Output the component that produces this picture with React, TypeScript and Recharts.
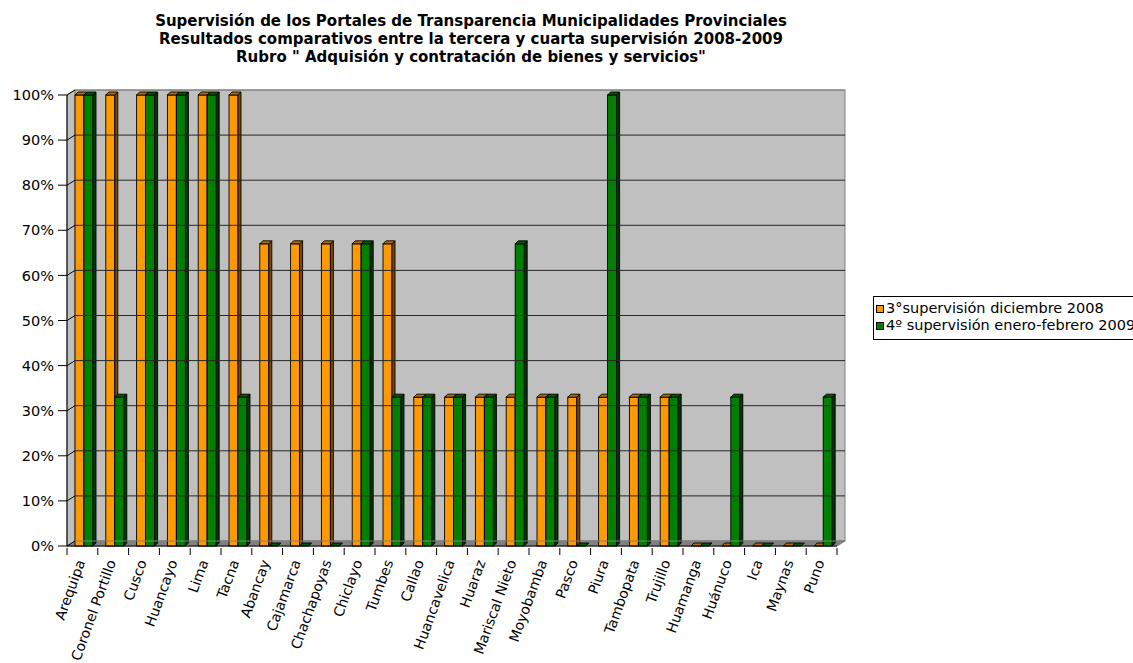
import React from 'react';
import { BarChart, Bar, XAxis, YAxis, ReferenceArea, ReferenceLine } from 'recharts';

const cities = [
  'Arequipa', 'Coronel Portillo', 'Cusco', 'Huancayo', 'Lima', 'Tacna', 'Abancay', 'Cajamarca',
  'Chachapoyas', 'Chiclayo', 'Tumbes', 'Callao', 'Huancavelica', 'Huaraz', 'Mariscal Nieto',
  'Moyobamba', 'Pasco', 'Piura', 'Tambopata', 'Trujillo', 'Huamanga', 'Huánuco', 'Ica', 'Maynas', 'Puno',
];
const tercera = [100, 100, 100, 100, 100, 100, 67, 67, 67, 67, 67, 33, 33, 33, 33, 33, 33, 33, 33, 33, 0, 0, 0, 0, 0];
const cuarta = [100, 33, 100, 100, 100, 33, 0, 0, 0, 67, 33, 33, 33, 33, 67, 33, 0, 100, 33, 33, 0, 33, 0, 0, 33];
const yTicks = [0, 10, 20, 30, 40, 50, 60, 70, 80, 90, 100];
const seriesNames = ['3°supervisión diciembre 2008', '4º supervisión enero-febrero 2009'];
const seriesColors = ['#FF9900', '#008000'];
const titleLines = [
  'Supervisión de los Portales de Transparencia Municipalidades Provinciales',
  'Resultados comparativos entre la tercera y cuarta supervisión 2008-2009',
  'Rubro " Adquisión y contratación de bienes y servicios"',
];

const data = cities.map((c, i) => ({ city: c, s3: tercera[i], s4: cuarta[i] }));

const FONT = '"DejaVu Sans", Arial, sans-serif';
const DX = 8; // wall depth
const DY = 5;

// back wall, side wall and floor
const Walls = (p: any) => {
  const { x, y, width, height } = p;
  const b = y + height;
  return (
    <g>
      <rect x={x + DX} y={y - DY} width={width} height={height} fill="#C0C0C0" stroke="#808080" />
      <polygon points={`${x},${y} ${x + DX},${y - DY} ${x + DX},${b - DY} ${x},${b}`} fill="#C0C0C0" stroke="#808080" />
      <polygon points={`${x},${b} ${x + DX},${b - DY} ${x + width + DX},${b - DY} ${x + width},${b}`} fill="#808080" stroke="#808080" />
    </g>
  );
};

// gridline on the back wall plus the short diagonal on the side wall
const gridLine = (color: string) => (p: any) => (
  <g>
    <line x1={p.x1} y1={p.y1} x2={p.x1 + DX} y2={p.y1 - DY} stroke="#000" />
    <line x1={p.x1 + DX} y1={p.y1 - DY} x2={p.x2 + DX} y2={p.y2 - DY} stroke={color} />
  </g>
);

const bar3d = (top: string, side: string) => (p: any) => {
  const { y, width, height, fill } = p;
  const x = p.x + 2;
  const d = 3;
  const h = Math.max(height, 0);
  return (
    <g>
      {h > 0 && <rect x={x} y={y} width={width} height={h} fill={fill} stroke="#000" strokeWidth={0.9} />}
      {h > 0 && (
        <polygon
          points={`${x + width},${y} ${x + width + d},${y - d} ${x + width + d},${y + h - d} ${x + width},${y + h}`}
          fill={side}
          stroke="#000"
          strokeWidth={0.9}
        />
      )}
      <polygon
        points={`${x},${y} ${x + d},${y - d} ${x + width + d},${y - d} ${x + width},${y}`}
        fill={top}
        stroke="#000"
        strokeWidth={0.9}
      />
    </g>
  );
};

const XTick = (p: any) => {
  const { x, y, payload, index } = p;
  const off = payload.offset ?? 15.4;
  return (
    <g>
      <line x1={x - off} y1={y} x2={x - off} y2={y + 7} stroke="#000" />
      {index === cities.length - 1 && <line x1={x + off} y1={y} x2={x + off} y2={y + 7} stroke="#000" />}
      <text
        transform={`translate(${x + 3},${y + 14}) rotate(-70)`}
        textAnchor="end"
        fontSize={14}
        fontFamily={FONT}
        fill="#000"
      >
        {payload.value}
      </text>
    </g>
  );
};

export default function App() {
  return (
    <div style={{ position: 'absolute', left: 0, top: 0, width: 1133, height: 663, overflow: 'hidden', background: '#fff', fontFamily: FONT }}>
      <div style={{ position: 'absolute', left: 0, top: 12, width: 942, textAlign: 'center', fontWeight: 'bold', fontSize: 15, lineHeight: '18px' }}>
        {titleLines.map((t) => (
          <div key={t}>{t}</div>
        ))}
      </div>
      <BarChart
        width={1133}
        height={663}
        data={data}
        margin={{ top: 95, right: 296, bottom: 7, left: 10 }}
        barCategoryGap={6}
        barGap={0}
      >
        <ReferenceArea y1={0} y2={100} shape={Walls} ifOverflow="visible" />
        {yTicks.map((t) => (
          <ReferenceLine key={t} y={t} shape={gridLine(t === 100 || t === 0 ? '#808080' : '#262626')} ifOverflow="visible" />
        ))}
        <XAxis
          dataKey="city"
          interval={0}
          height={110}
          tickLine={false}
          tickSize={0}
          tick={<XTick />}
          axisLine={{ stroke: '#000' }}
        />
        <YAxis
          domain={[0, 100]}
          ticks={yTicks}
          width={57}
          tickSize={9}
          tickMargin={4}
          tickFormatter={(v: number) => `${v}%`}
          axisLine={{ stroke: '#000' }}
          tickLine={{ stroke: '#000' }}
          tick={{ fill: '#000', fontSize: 14.5, fontFamily: FONT }}
        />
        <Bar dataKey="s3" name={seriesNames[0]} fill={seriesColors[0]} barSize={9} shape={bar3d('#B36B00', '#7A4800')} isAnimationActive={false} />
        <Bar dataKey="s4" name={seriesNames[1]} fill={seriesColors[1]} barSize={9} shape={bar3d('#005A00', '#003800')} isAnimationActive={false} />
      </BarChart>
      <div style={{ position: 'absolute', left: 873, top: 296, width: 280, height: 42, border: '1px solid #000', background: '#fff', fontSize: 14.5, whiteSpace: 'nowrap' }}>
        {seriesNames.map((n, i) => (
          <div key={n} style={{ position: 'absolute', left: 2, top: 3 + i * 17, lineHeight: '17px', display: 'flex', alignItems: 'center' }}>
            <span style={{ display: 'inline-block', width: 6, height: 6, background: seriesColors[i], border: '1px solid #000', marginRight: 2 }} />
            <span>{n}</span>
          </div>
        ))}
      </div>
    </div>
  );
}
